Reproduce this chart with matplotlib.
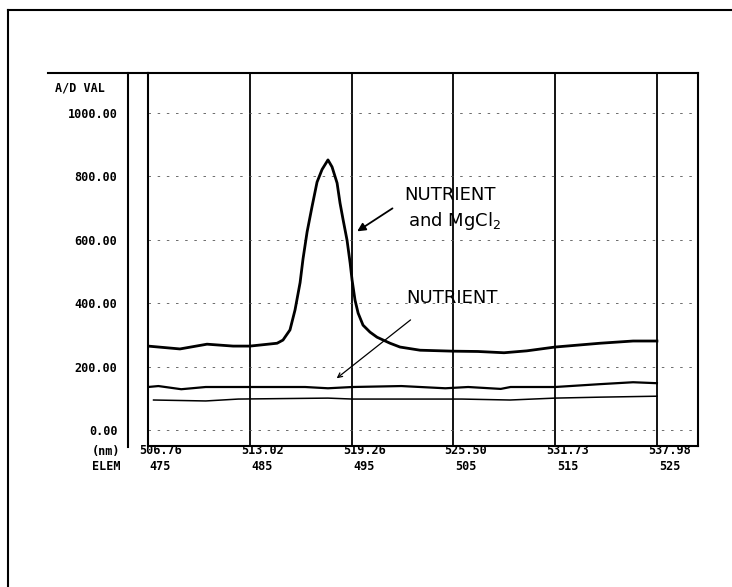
import matplotlib
matplotlib.use('Agg')
import matplotlib.pyplot as plt
from matplotlib.lines import Line2D

# wavelength (nm) / A-D value
mg_nm = [506.76, 508.72, 510.38, 511.98, 513.02, 514.68, 515.04, 515.47, 515.78,
         516.09, 516.27, 516.52, 516.82, 517.13, 517.44, 517.80, 518.05, 518.36,
         518.54, 518.73, 518.97, 519.16, 519.28, 519.46, 519.65, 519.95, 520.38,
         520.81, 521.61, 522.22, 523.45, 525.47, 527.00, 528.60, 530.00, 531.73,
         534.49, 536.52, 537.98]
mg_val = [265, 256, 271, 265, 265, 274, 284, 316, 379,
          465, 540, 625, 704, 782, 822, 852, 830, 779,
          716, 663, 599, 527, 473, 410, 369, 331, 309,
          293, 274, 262, 252, 249, 248, 244, 250, 262,
          274, 281, 281]

nut_nm = [506.76, 507.40, 508.80, 510.30, 512.30, 514.30, 516.40, 517.80, 519.30,
          522.30, 525.00, 526.40, 528.40, 529.00, 531.73, 534.49, 536.52, 537.98]
nut_val = [136, 139, 129, 136, 136, 136, 136, 132, 136,
           139, 132, 136, 130, 136, 136, 145, 151, 148]

base_nm = [507.10, 510.30, 512.30, 517.80, 519.30, 523.00, 526.00, 528.97, 531.73,
           534.49, 537.98]
base_val = [95, 92, 98, 101, 98, 98, 98, 95, 101, 104, 107]

nm_ticks = [506.76, 513.02, 519.26, 525.50, 531.73, 537.98]
elem_ticks = ['475', '485', '495', '505', '515', '525']
y_ticks = [0, 200, 400, 600, 800, 1000]

W, H = 732, 587
fig = plt.figure(figsize=(W / 100, H / 100), dpi=100)
ax = fig.add_axes([148 / W, 1 - 446 / H, 550 / W, 373 / H])

lab = dict(family='DejaVu Sans Mono', fontsize=8.5, fontweight='bold')

for x in nm_ticks:
    ax.axvline(x, color='black', lw=1.3)
for y in y_ticks:
    ax.axhline(y, color='#555555', lw=0.6, ls=(0, (3, 8)))

ax.plot(mg_nm, mg_val, color='black', lw=2.0)
ax.plot(nut_nm, nut_val, color='black', lw=1.6)
ax.plot(base_nm, base_val, color='black', lw=1.1)

ax.set_xlim(506.76, 540.5)
ax.set_ylim(-50, 1126)
for s in ax.spines.values():
    s.set_linewidth(1.5)

ax.set_xticks([])
ax.set_yticks(y_ticks)
ax.set_yticklabels(['%.2f' % v for v in y_ticks], **lab)
ax.tick_params(axis='y', length=0, pad=22)

for x, e in zip(nm_ticks, elem_ticks):
    ax.annotate('%.2f' % x, xy=(x, 0), xycoords=('data', 'axes fraction'),
                xytext=(9, -3), textcoords='offset points', ha='center', va='center', **lab)
    ax.annotate(e, xy=(x, 0), xycoords=('data', 'axes fraction'),
                xytext=(9, -14.5), textcoords='offset points', ha='center', va='center', **lab)

fig.text(55 / W, 1 - 88 / H, 'A/D VAL', ha='left', va='center', **lab)
fig.text(106 / W, 1 - 451 / H, '(nm)', ha='center', va='center', **lab)
fig.text(106 / W, 1 - 467 / H, 'ELEM', ha='center', va='center', **lab)

# hand-written labels
hand = dict(family='DejaVu Sans', fontsize=13, color='black')
ax.text(522.5, 741, 'NUTRIENT', ha='left', va='center', **hand)
ax.text(522.7, 660, 'and MgCl$_2$', ha='left', va='center', **hand)
ax.text(522.6, 416, 'NUTRIENT', ha='left', va='center', **hand)
ax.annotate('', xy=(519.45, 622), xytext=(521.9, 704),
            arrowprops=dict(arrowstyle='-|>', color='black', lw=1.3, mutation_scale=12))
ax.annotate('', xy=(518.2, 158), xytext=(523.0, 353),
            arrowprops=dict(arrowstyle='->', color='black', lw=0.9, mutation_scale=8))

# extra rules from the printout and scan frame
tf = fig.transFigure
fig.add_artist(Line2D([128 / W, 128 / W], [1 - 73 / H, 1 - 447 / H], transform=tf, color='black', lw=1.5))
fig.add_artist(Line2D([48 / W, 148 / W], [1 - 73 / H, 1 - 73 / H], transform=tf, color='black', lw=1.5))
fig.add_artist(Line2D([8 / W, 8 / W], [1 - 10 / H, 0], transform=tf, color='black', lw=1.5))
fig.add_artist(Line2D([8 / W, 1], [1 - 10 / H, 1 - 10 / H], transform=tf, color='black', lw=1.5))

fig.savefig('out.png', dpi=100)
